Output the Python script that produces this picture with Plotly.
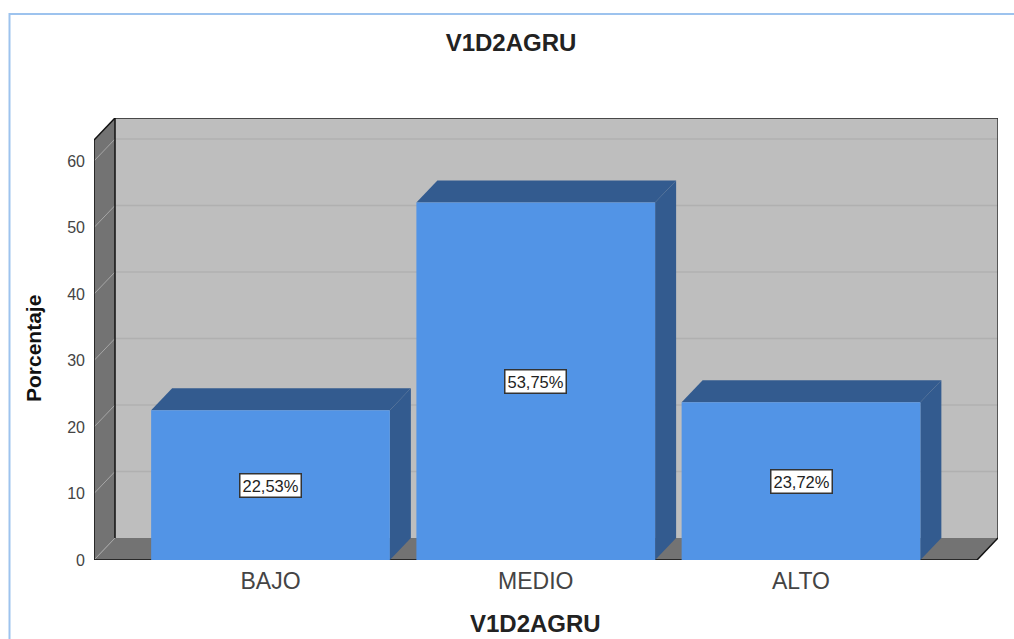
import plotly.graph_objects as go

title = "V1D2AGRU"
y_title = "Porcentaje"
categories = ["BAJO", "MEDIO", "ALTO"]
values = [22.53, 53.75, 23.72]
labels = ["22,53%", "53,75%", "23,72%"]
y_ticks = [0, 10, 20, 30, 40, 50, 60]

W, H = 1014, 639
PX_X = 265.25
PX_Y = 6.65
X0, X1 = 94, 998
Y0, Y1 = 560, 118
DX = 21 / PX_X
DY = 22 / PX_Y
BAR = 0.9
xmin = (X0 - 270.5) / PX_X
xmax = (X1 - 270.5) / PX_X
ymax = (Y0 - Y1) / PX_Y
ytop = ymax - DY
xfront = xmax - DX

WALL = "#bebebe"
SIDE = "#737373"
BLUE = "#5294e6"
DARK = "#335b8f"

shapes = []


def poly(points, fill, line=None, width=1, layer="below"):
    path = "M " + " L ".join(f"{x},{y}" for x, y in points) + " Z"
    shapes.append(dict(type="path", path=path, xref="x", yref="y", fillcolor=fill,
                       line=dict(color=line or fill, width=width if line else 0), layer=layer))


def seg(x0, y0, x1, y1, color, width=1, layer="below"):
    shapes.append(dict(type="line", x0=x0, y0=y0, x1=x1, y1=y1, xref="x", yref="y",
                       line=dict(color=color, width=width), layer=layer))


# frame
shapes.append(dict(type="path", path=f"M {9.5/W},0 L {9.5/W},{(H-14)/H} L 1,{(H-14)/H}",
                   xref="paper", yref="paper", line=dict(color="#9dc3ee", width=2), layer="below"))

# walls
poly([(xmin + DX, DY), (xmax, DY), (xmax, ymax), (xmin + DX, ymax)], WALL)
poly([(xmin, 0), (xmin + DX, DY), (xmin + DX, ymax), (xmin, ytop)], SIDE)
poly([(xmin, 0), (xfront, 0), (xmax, DY), (xmin + DX, DY)], SIDE)

# grid
for t in y_ticks[1:]:
    seg(xmin + DX, t + DY, xmax, t + DY, "#b0b0b0", 1.5)
for t in y_ticks:
    seg(xmin, t, xmin + DX, t + DY, "#a6a6a6", 1)

# outlines
seg(xmin, 0, xmin, ytop, "#111111", 1.5)
seg(xmin, 0, xfront, 0, "#111111", 1.5)
seg(xmin, ytop, xmin + DX, ymax, "#111111", 1.5)
seg(xmin + DX, ymax, xmax, ymax, "#222222", 1.5)
seg(xmin + DX, DY, xmin + DX, ymax, "#111111", 1.5)
seg(xmax, DY, xmax, ymax, "#333333", 1.5)
seg(xfront, 0, xmax, DY, "#111111", 1.5)

# bar depth faces
for i, v in enumerate(values):
    l, r = i - BAR / 2, i + BAR / 2
    poly([(r, 0), (r + DX, DY), (r + DX, v + DY), (r, v)], DARK)
    poly([(l, v), (r, v), (r + DX, v + DY), (l + DX, v + DY)], DARK)

fig = go.Figure(go.Bar(x=list(range(len(categories))), y=values, width=BAR,
                       marker=dict(color=BLUE, line=dict(width=0)), hoverinfo="skip"))

annotations = [
    dict(x=i, y=v / 2, text=labels[i], xref="x", yref="y", showarrow=False,
         bgcolor="white", bordercolor="#333333", borderwidth=1.5, borderpad=2,
         font=dict(family="Liberation Sans", size=16.5, color="#222222"))
    for i, v in enumerate(values)
]
annotations.append(dict(x=535 / W, y=1 - 623 / H, xref="paper", yref="paper", showarrow=False,
                        xanchor="center", yanchor="middle", text=f"<b>{title}</b>",
                        font=dict(family="Liberation Sans", size=24, color="#222222")))
annotations.append(dict(x=33 / W, y=1 - 349 / H, xref="paper", yref="paper", showarrow=False,
                        xanchor="center", yanchor="middle", text=f"<b>{y_title}</b>", textangle=-90,
                        font=dict(family="Liberation Sans", size=21, color="#111111")))

fig.update_layout(
    width=W, height=H, margin=dict(l=0, r=0, t=0, b=0), autosize=False,
    paper_bgcolor="white", plot_bgcolor="white", showlegend=False,
    shapes=shapes, annotations=annotations,
    title=dict(text=f"<b>{title}</b>", x=511 / W, xanchor="center", y=1 - 43 / H, yanchor="middle",
               automargin=False, font=dict(family="Liberation Sans", size=24, color="#222222")),
    xaxis=dict(domain=[X0 / W, X1 / W], range=[xmin, xmax], showgrid=False, zeroline=False,
               automargin=False, showline=False, ticks="", tickvals=list(range(len(categories))),
               ticktext=categories, ticklabelstandoff=5,
               tickfont=dict(family="Liberation Sans", size=23, color="#444444")),
    yaxis=dict(domain=[(H - Y0) / H, (H - Y1) / H], range=[0, ymax], showgrid=False, zeroline=False,
               automargin=False, showline=False, ticks="", tickvals=y_ticks, ticklabelstandoff=8,
               tickfont=dict(family="Liberation Sans", size=16, color="#444444")),
)

fig.write_html("out.html", default_width=W, default_height=H,
               config=dict(displayModeBar=False),
               post_script="document.body.style.margin='0';document.body.style.overflow='hidden';")
